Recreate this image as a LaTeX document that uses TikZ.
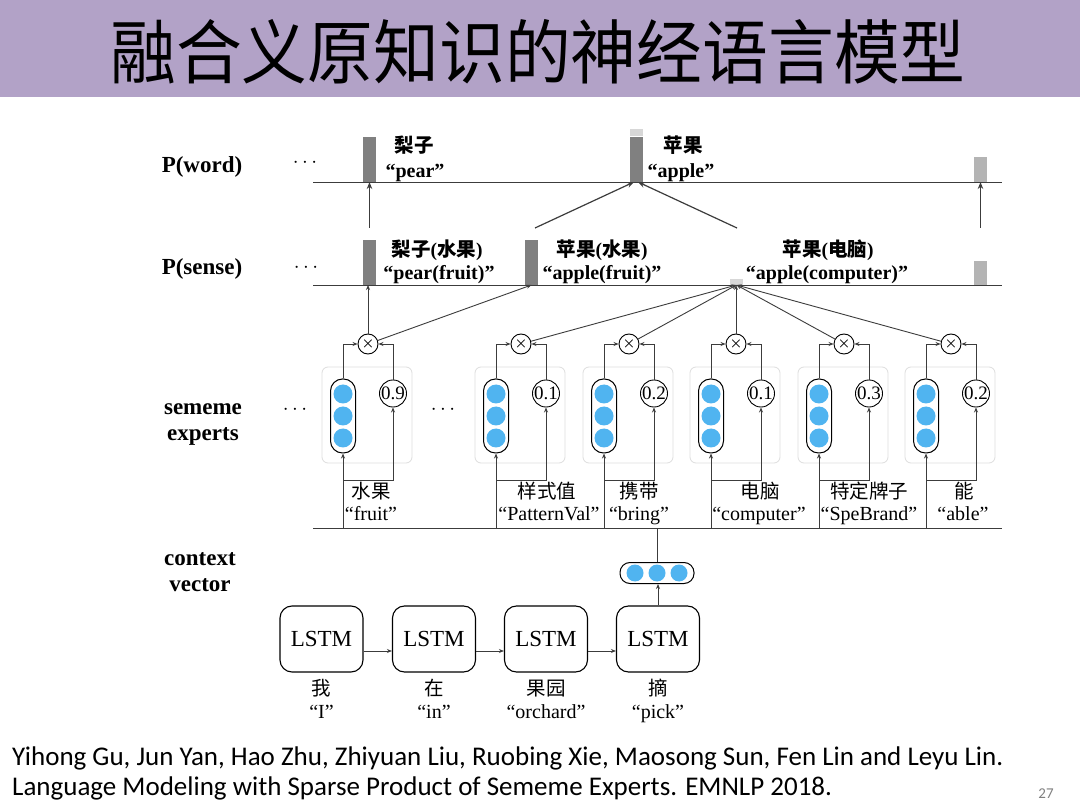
\documentclass[tikz,border=0pt]{standalone}
\usepackage{fontspec}
\setmainfont{Liberation Serif}
\newfontfamily\cjk{Noto Sans CJK SC}
\newfontfamily\foot{Carlito}
\usetikzlibrary{arrows.meta}
\definecolor{titlebg}{RGB}{178,162,199}
\definecolor{dotblue}{RGB}{80,180,240}
\definecolor{bardark}{RGB}{128,128,128}
\definecolor{barlight}{RGB}{180,180,180}
\definecolor{capgray}{RGB}{215,215,215}
\definecolor{boxgray}{RGB}{222,222,222}
\definecolor{linegray}{RGB}{60,60,60}
\newcommand\zh[1]{{\cjk #1}}
\tikzset{
  ln/.style={draw=linegray, line width=0.9pt},
  arr/.style={ln, -{Stealth[length=5pt,width=4pt]}},
  bigarr/.style={draw=linegray, line width=1.2pt, -{Stealth[length=7pt,width=5.5pt]}},
  bar/.style={fill=bardark, draw=none, minimum width=13pt, inner sep=0pt, anchor=south},
  lbar/.style={bar, fill=barlight},
  ebox/.style={draw=boxgray, line width=0.8pt, rounded corners=6pt, minimum width=90pt, minimum height=96pt, inner sep=0pt},
  vcap/.style={draw=black, line width=1pt, fill=white, rounded corners=12pt, minimum width=25pt, minimum height=74pt, inner sep=0pt},
  hcap/.style={draw=black, line width=1pt, fill=white, rounded corners=10pt, minimum width=74pt, minimum height=21pt, inner sep=0pt},
  bdot/.style={circle, fill=dotblue, minimum size=19pt, inner sep=0pt},
  sdot/.style={circle, fill=dotblue, minimum size=17pt, inner sep=0pt},
  numc/.style={circle, draw=black, line width=0.9pt, fill=white, minimum size=25pt, inner sep=0pt, font=\fontsize{19}{19}\selectfont},
  xc/.style={circle, draw=black, line width=0.9pt, fill=white, minimum size=20pt, inner sep=0pt, font=\fontsize{15}{15}\selectfont\boldmath},
  lstm/.style={draw=black, line width=1.1pt, rounded corners=12pt, minimum width=83pt, minimum height=66pt, inner sep=0pt, font=\fontsize{23}{23}\selectfont},
  side/.style={font=\fontsize{23}{23}\selectfont\bfseries, anchor=base},
  zhb/.style={font=\cjk\fontsize{19.5}{20}\selectfont\bfseries, anchor=base, inner sep=0pt},
  enb/.style={font=\fontsize{20}{20}\selectfont\bfseries, anchor=base, inner sep=0pt},
  zhr/.style={font=\cjk\fontsize{19.5}{20}\selectfont, anchor=base, inner sep=0pt},
  enr/.style={font=\fontsize{20}{20}\selectfont, anchor=base, inner sep=0pt},
  dts/.style={font=\fontsize{22}{22}\selectfont, inner sep=0pt},
  foottext/.style={font=\foot\fontsize{27}{27}\selectfont, anchor=base west, inner sep=0pt},
}
\begin{document}
\begin{tikzpicture}[x=1pt,y=-1pt]
\useasboundingbox (0,0) rectangle (1080,810);
\fill[white] (0,0) rectangle (1080,810);
% title
\fill[titlebg] (0,0) rectangle (1080,97);
\node[font=\cjk\fontsize{70}{70}\selectfont, inner sep=0pt] (title) at (538,52) {\scalebox{0.94}[1]{融合义原知识的神经语言模型}};

% side labels
\node[side] (pw) at (202,173) {P(word)};
\node[side] (ps) at (202,275) {P(sense)};
\node[side] (se1) at (203,415) {sememe};
\node[side] (se2) at (203,441) {experts};
\node[side] (cv1) at (200,565) {context};
\node[side] (cv2) at (200,591) {vector};

% P(word) row
\coordinate (w0) at (313,182);
\coordinate (w1) at (1002,182);
\draw[ln] (w0) -- (w1);
\node[dts] (dw) at (305,163) {$\cdots$};
\node[bar, minimum height=45pt] (bpear) at (369.5,182) {};
\node[bar, minimum height=45pt] (bapple) at (636,182) {};
\node[bar, fill=capgray, minimum height=7pt] (bappcap) at (bapple.north) {};
\node[lbar, minimum height=25pt] (bright1) at (980.5,182) {};
\node[zhb] (t1) at (414,153) {梨子};
\node[enb] (t2) at (415,178) {“pear”};
\node[zhb] (t3) at (683,153) {苹果};
\node[enb] (t4) at (681,178) {“apple”};

% arrows to P(word)
\coordinate (a1) at (369.5,228);
\coordinate (a2) at (535,228);
\coordinate (a3) at (737,228);
\coordinate (a4) at (980.5,228);
\draw[bigarr] (a1) -- (bpear.south);
\draw[bigarr] (a2) -- ([xshift=-2pt]bapple.south);
\draw[bigarr] (a3) -- ([xshift=2pt]bapple.south);
\draw[bigarr] (a4) -- (bright1.south);

% P(sense) row
\coordinate (s0) at (313,285);
\coordinate (s1) at (1002,285);
\draw[ln] (s0) -- (s1);
\node[dts] (ds) at (306,268) {$\cdots$};
\node[bar, minimum height=45pt] (bpf) at (369.5,285) {};
\node[bar, minimum height=45pt] (bapf) at (531.5,285) {};
\node[lbar, fill=capgray, minimum height=6pt] (bapc) at (736.5,285) {};
\node[lbar, minimum height=24pt] (bright2) at (980.5,285) {};
\node[zhb] (t5) at (437,257) {梨子\textnormal{\bfseries\rmfamily(}水果\textnormal{\bfseries\rmfamily)}};
\node[enb] (t6) at (439,280) {“pear(fruit)”};
\node[zhb] (t7) at (602,257) {苹果\textnormal{\bfseries\rmfamily(}水果\textnormal{\bfseries\rmfamily)}};
\node[enb] (t8) at (602,280) {“apple(fruit)”};
\node[zhb] (t9) at (828,257) {苹果\textnormal{\bfseries\rmfamily(}电脑\textnormal{\bfseries\rmfamily)}};
\node[enb] (t10) at (827,280) {“apple(computer)”};

% sememe experts
\coordinate (bl) at (313,528);
\coordinate (br) at (1002,528);
\coordinate (hy) at (0,480);
\draw[ln] (bl) -- (br);
\node[dts] (de1) at (295,410) {$\cdots$};
\node[dts] (de2) at (443,410) {$\cdots$};
\foreach \L/\v/\i in {322/0.9/1, 475/0.1/2, 583/0.2/3, 690/0.1/4, 798/0.3/5, 905/0.2/6} {
  \node[ebox] (e\i) at (\L+45,415) {};
  \node[vcap] (c\i) at (\L+21,416) {};
  \node[bdot] (c\i a) at (\L+21,394) {};
  \node[bdot] (c\i b) at (\L+21,416) {};
  \node[bdot] (c\i c) at (\L+21,438) {};
  \node[numc] (n\i) at (\L+71,393.5) {\v};
  \node[xc] (x\i) at (\L+46,344) {$\times$};
  \draw[arr] (c\i.north) |- (x\i.west);
  \draw[arr] (n\i.north) |- (x\i.east);
  \draw[arr] (c\i.south |- bl) -- (c\i.south);
  \draw[arr] (c\i.south |- hy) -| (n\i.south);
}
% sememe labels
\node[zhr] (l1a) at (371,498) {水果};
\node[enr] (l1b) at (371,520) {“fruit”};
\node[zhr] (l2a) at (547,498) {样式值};
\node[enr] (l2b) at (549,520) {“PatternVal”};
\node[zhr] (l3a) at (639,498) {携带};
\node[enr] (l3b) at (639,520) {“bring”};
\node[zhr] (l4a) at (760,498) {电脑};
\node[enr] (l4b) at (759,520) {“computer”};
\node[zhr] (l5a) at (869,498) {特定牌子};
\node[enr] (l5b) at (869,520) {“SpeBrand”};
\node[zhr] (l6a) at (964,498) {能};
\node[enr] (l6b) at (963,520) {“able”};

% expert outputs to senses
\draw[arr] (x1.north) -- (x1.north |- bpf.south);
\draw[arr] (x1) -- (bapf.south);
\foreach \i in {2,3,5,6} { \draw[arr] (x\i) -- (bapc.south); }
\draw[arr] (x4.north) -- (x4.north |- bapc.south);

% context vector
\node[hcap] (cv) at (657,573) {};
\node[sdot] (cva) at (635,573) {};
\node[sdot] (cvb) at (657,573) {};
\node[sdot] (cvc) at (679,573) {};
\draw[ln] (cv.north) -- (cv.north |- bl);

% LSTMs
\node[lstm] (l1) at (321.5,639) {LSTM};
\node[lstm] (l2) at (434,639) {LSTM};
\node[lstm] (l3) at (546,639) {LSTM};
\node[lstm] (l4) at (658,639) {LSTM};
\draw[arr] ([yshift=-12pt]l1.east) -- ([yshift=-12pt]l2.west);
\draw[arr] ([yshift=-12pt]l2.east) -- ([yshift=-12pt]l3.west);
\draw[arr] ([yshift=-12pt]l3.east) -- ([yshift=-12pt]l4.west);
\draw[arr] (l4.north) -- (l4.north |- cv.south);
\node[zhr] (w1a) at (321.5,695) {我};
\node[enr] (w1b) at (321.5,718) {“I”};
\node[zhr] (w2a) at (434,695) {在};
\node[enr] (w2b) at (434,718) {“in”};
\node[zhr] (w3a) at (546,695) {果园};
\node[enr] (w3b) at (546,718) {“orchard”};
\node[zhr] (w4a) at (658,695) {摘};
\node[enr] (w4b) at (658,718) {“pick”};

% footer
\node[foottext] (ref1) at (12,765) {Yihong Gu, Jun Yan, Hao Zhu, Zhiyuan Liu, Ruobing Xie, Maosong Sun, Fen Lin and Leyu Lin.};
\node[foottext] (ref2) at (12,795) {Language Modeling with Sparse Product of Sememe Experts. EMNLP 2018.};
\node[font=\foot\fontsize{15}{15}\selectfont, text=gray, anchor=base, inner sep=0pt] (pg) at (1046,798) {27};
\end{tikzpicture}
\end{document}
